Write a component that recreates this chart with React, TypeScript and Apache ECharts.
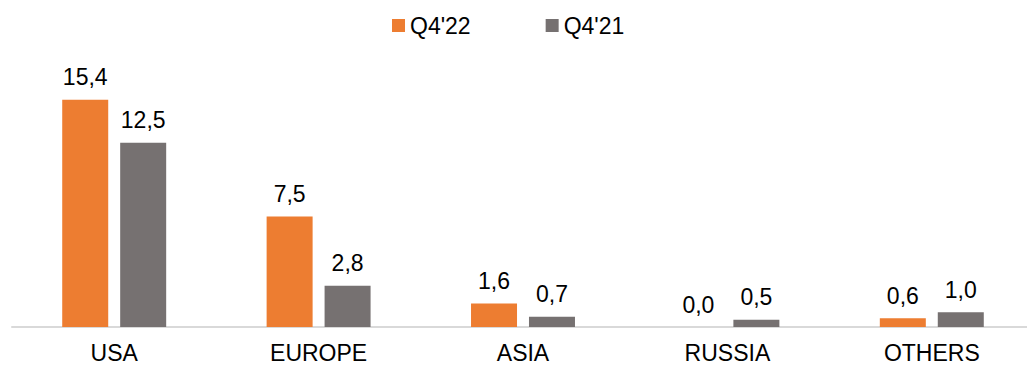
import React, { useEffect, useRef } from "react";
import * as echarts from "echarts";

const categories = ["USA", "EUROPE", "ASIA", "RUSSIA", "OTHERS"];
const q422 = [15.4, 7.5, 1.6, 0.0, 0.6];
const q421 = [12.5, 2.8, 0.7, 0.5, 1.0];

const FONT = "'Liberation Sans', Arial, sans-serif";

export default function App() {
  const ref = useRef<HTMLDivElement>(null);

  useEffect(() => {
    if (!ref.current) return;
    const chart = echarts.init(ref.current, null, { renderer: "svg" });
    const label = {
      show: true,
      position: "top" as const,
      distance: 11,
      color: "#000",
      fontSize: 23,
      fontFamily: FONT,
      formatter: (p: any) => Number(p.value).toFixed(1).replace(".", ","),
    };
    chart.setOption({
      animation: false,
      textStyle: { fontFamily: FONT },
      legend: {
        top: 9,
        left: 387,
        itemWidth: 13,
        itemHeight: 13,
        itemGap: 75,
        icon: "rect",
        textStyle: { fontSize: 23, color: "#000", fontFamily: FONT },
        data: ["Q4'22", "Q4'21"],
      },
      grid: { left: 12, right: 6, top: 91, bottom: 38 },
      xAxis: {
        type: "category",
        data: categories,
        axisTick: { show: false },
        axisLine: { lineStyle: { color: "#d9d9d9", width: 2 } },
        axisLabel: { fontSize: 23, color: "#000", fontFamily: FONT, margin: 14 },
      },
      yAxis: {
        type: "value",
        min: 0,
        max: 16,
        show: false,
        splitLine: { show: false },
      },
      series: [
        {
          name: "Q4'22",
          type: "bar",
          data: q422,
          barWidth: 46,
          barGap: "26%",
          itemStyle: { color: "#ED7D31" },
          label,
        },
        {
          name: "Q4'21",
          type: "bar",
          data: q421,
          barWidth: 46,
          itemStyle: { color: "#767171" },
          label,
        },
      ],
    });
    return () => chart.dispose();
  }, []);

  return (
    <div style={{ width: 1027, height: 365, position: "absolute", left: 0, top: 0, overflow: "hidden" }}>
      <div ref={ref} style={{ width: 1040, height: 365 }} />
    </div>
  );
}
